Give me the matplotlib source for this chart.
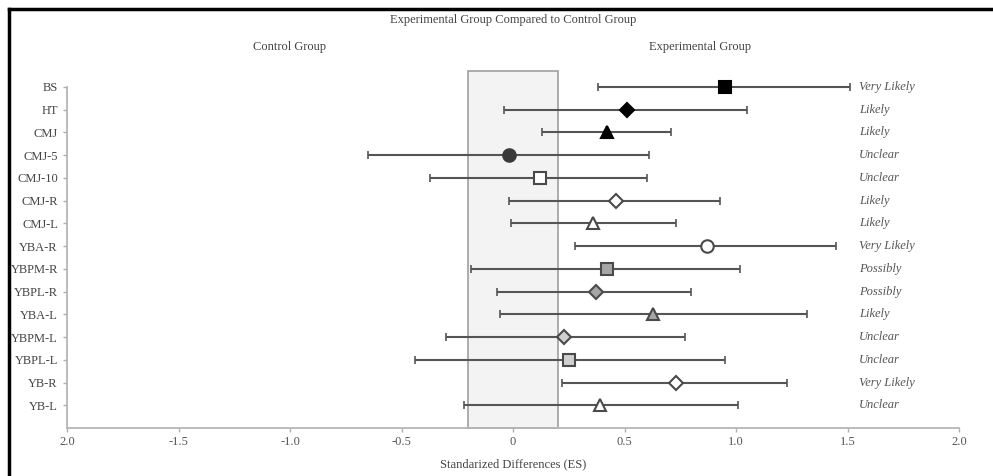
import matplotlib
matplotlib.use("Agg")
import matplotlib.pyplot as plt
from matplotlib.patches import Rectangle
from matplotlib.lines import Line2D

plt.rcParams['font.family'] = ['Liberation Serif', 'DejaVu Serif']

# data
labels = ['BS', 'HT', 'CMJ', 'CMJ-5', 'CMJ-10', 'CMJ-R', 'CMJ-L', 'YBA-R',
          'YBPM-R', 'YBPL-R', 'YBA-L', 'YBPM-L', 'YBPL-L', 'YB-R', 'YB-L']
es = [0.95, 0.51, 0.42, -0.02, 0.12, 0.46, 0.36, 0.87,
      0.42, 0.37, 0.63, 0.23, 0.25, 0.73, 0.39]
ci_low = [0.38, -0.04, 0.13, -0.65, -0.37, -0.02, -0.01, 0.28,
          -0.19, -0.07, -0.06, -0.30, -0.44, 0.22, -0.22]
ci_high = [1.51, 1.05, 0.71, 0.61, 0.60, 0.93, 0.73, 1.45,
           1.02, 0.80, 1.32, 0.77, 0.95, 1.23, 1.01]
outcome = ['Very Likely', 'Likely', 'Likely', 'Unclear', 'Unclear', 'Likely', 'Likely',
           'Very Likely', 'Possibly', 'Possibly', 'Likely', 'Unclear', 'Unclear',
           'Very Likely', 'Unclear']
markers = ['s', 'D', '^', 'o', 's', 'D', '^', 'o', 's', 'D', '^', 'D', 's', 'D', '^']
faces = ['black', 'black', 'black', '#3a3a3a', 'white', 'white', 'white', 'white',
         '#a6a6a6', '#a6a6a6', '#a6a6a6', '#cfcfcf', '#cfcfcf', 'white', 'white']
edges = ['black', 'black', 'black', '#3a3a3a'] + ['#4a4a4a'] * 11
sizes = [9, 7, 8, 9, 9, 7, 8, 9, 9, 7, 8, 7, 9, 7, 8]
trivial = (-0.2, 0.2)
xticks = [-2.0, -1.5, -1.0, -0.5, 0, 0.5, 1.0, 1.5, 2.0]
xticklabels = ['2.0', '-1.5', '-1.0', '-0.5', '0', '0.5', '1.0', '1.5', '2.0']

n = len(labels)
ypos = [n - i for i in range(n)]

fig = plt.figure(figsize=(9.93, 4.76), dpi=100)
ax = fig.add_axes([67 / 993, 1 - 428 / 476, (959 - 67) / 993, (428 - 71) / 476])

ax.set_xlim(-2.0, 2.0)
ax.set_ylim(0, 15.7)

# trivial zone
ax.add_patch(Rectangle((trivial[0], 0), trivial[1] - trivial[0], 15.7,
                       facecolor='#f3f3f3', edgecolor='#a0a0a0', lw=1.2, zorder=1,
                       clip_on=False))

ax.errorbar(es, ypos, xerr=[[e - l for e, l in zip(es, ci_low)],
                            [h - e for e, h in zip(es, ci_high)]],
            fmt='none', ecolor='#555555', elinewidth=1.5, capsize=3, capthick=1.2,
            zorder=2)
for x, y, m, fc, ec, s in zip(es, ypos, markers, faces, edges, sizes):
    ax.plot(x, y, marker=m, markersize=s, markerfacecolor=fc, markeredgecolor=ec,
            markeredgewidth=1.5, linestyle='none', zorder=3)

for y, t in zip(ypos, outcome):
    ax.text(1.55, y, t, style='italic', fontsize=9, color='#555555', va='center')

ax.set_yticks(ypos)
ax.set_yticklabels(labels, fontsize=9, color='#444444')
ax.set_xticks(xticks)
ax.set_xticklabels(xticklabels, fontsize=9, color='#555555')
ax.tick_params(axis='both', direction='out', length=3, color='#b0b0b0', width=1)
ax.tick_params(axis='x', pad=3)

for s in ['top', 'right']:
    ax.spines[s].set_visible(False)
for s in ['left', 'bottom']:
    ax.spines[s].set_color('#b5b5b5')
    ax.spines[s].set_linewidth(1.3)
ax.spines['left'].set_bounds(0, n)

fig.text(513 / 993, 1 - 464 / 476, 'Standarized Differences (ES)', ha='center',
         va='center', fontsize=9, color='#444444')
fig.text(513 / 993, 1 - 20 / 476, 'Experimental Group Compared to Control Group',
         ha='center', va='center', fontsize=9, color='#444444')
fig.text(290 / 993, 1 - 47 / 476, 'Control Group', ha='center', va='center',
         fontsize=9, color='#444444')
fig.text(700 / 993, 1 - 47 / 476, 'Experimental Group', ha='center', va='center',
         fontsize=9, color='#444444')

# frame lines of the original figure
fig.add_artist(Line2D([9 / 993, 1], [1 - 9 / 476, 1 - 9 / 476], color='black', lw=2.5))
fig.add_artist(Line2D([9 / 993, 9 / 993], [0, 1 - 9 / 476], color='black', lw=2.5))

fig.savefig('out.png', dpi=100)
